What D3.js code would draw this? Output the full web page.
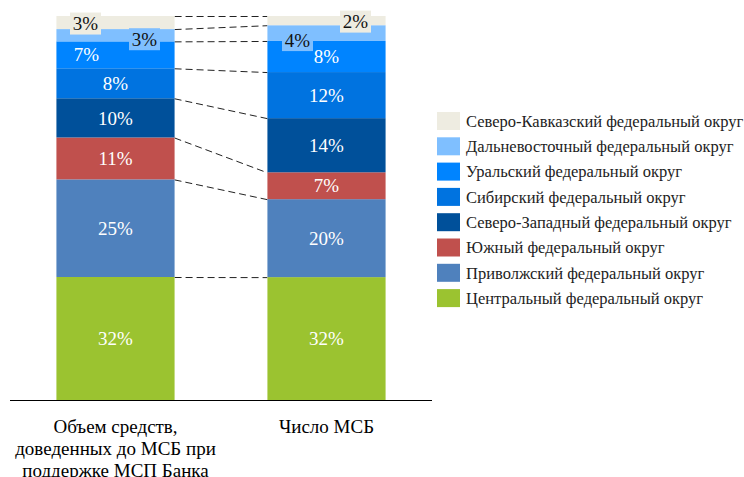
<!DOCTYPE html>
<html>
<head>
<meta charset="utf-8">
<script src="https://cdn.jsdelivr.net/npm/d3@7"></script>
<style>
  body { margin: 0; background: #fff; }
  svg { display: block; }
  text { font-family: "Liberation Serif", "Times New Roman", serif; }
  .axis { stroke: #000; stroke-width: 1; }
  .link { stroke: #222; stroke-width: 1; stroke-dasharray: 7,4; fill: none; }
</style>
</head>
<body>
<div id="chart"></div>
<script>
// bottom to top
var regions = [
  "Центральный федеральный округ",
  "Приволжский федеральный округ",
  "Южный федеральный округ",
  "Северо-Западный федеральный округ",
  "Сибирский федеральный округ",
  "Уральский федеральный округ",
  "Дальневосточный федеральный округ",
  "Северо-Кавказский федеральный округ"
];
var colors = ["#9BC330", "#4F81BD", "#C0504D", "#00509A", "#0073E0", "#0084FF", "#7FBFFF", "#EEECE1"];
var categories = [
  ["Объем средств,", "доведенных до МСБ при", "поддержке МСП Банка"],
  ["Число МСБ"]
];
var volumeShare = [32.0, 25.4, 10.9, 10.2, 7.8, 7.0, 3.2, 3.4];
var countShare = [32.0, 20.3, 7.0, 14.1, 12.0, 8.1, 4.1, 2.4];
var series = [volumeShare, countShare];

var width = 744, height = 477;
var svg = d3.select("#chart").append("svg")
    .attr("width", width)
    .attr("height", height);

var x = d3.scaleBand().domain([0, 1]).range([10, 432]).paddingInner(0.44).paddingOuter(0.22);
var y = d3.scaleLinear().domain([0, 100]).range([400, 16]);

// stacked boundaries per bar
var stacks = series.map(function(vals) {
  var total = d3.sum(vals), acc = 0;
  return vals.map(function(v, i) {
    var y0 = acc / total * 100;
    acc += v;
    return {i: i, v: v, y0: y0, y1: acc / total * 100};
  });
});

// connector lines between the bars
var links = d3.range(regions.length).map(function(i) {
  return [stacks[0][i].y1, stacks[1][i].y1];
});

svg.selectAll(".link")
  .data(links)
  .enter().append("line")
    .attr("class", "link")
    .attr("x1", x(0) + x.bandwidth())
    .attr("x2", x(1))
    .attr("y1", function(d) { return y(d[0]) + 0.5; })
    .attr("y2", function(d) { return y(d[1]) + 0.5; });

stacks.forEach(function(stack, b) {
  svg.append("g").selectAll("rect")
    .data(stack)
    .enter().append("rect")
      .attr("x", x(b))
      .attr("width", x.bandwidth())
      .attr("y", function(d) { return y(d.y1); })
      .attr("height", function(d) { return y(d.y0) - y(d.y1); })
      .attr("fill", function(d) { return colors[d.i]; });
});

// label placement tweaks for the thin top segments: bar-region -> dx, dy, boxed
var tweak = {
  "0-5": {dx: -29, dy: 0},
  "0-6": {dx: 29, dy: 4, box: true},
  "0-7": {dx: -30, dy: 1, box: true},
  "1-6": {dx: -29, dy: 7, box: true},
  "1-7": {dx: 29, dy: 1, box: true}
};

stacks.forEach(function(stack, b) {
  var cx = x(b) + x.bandwidth() / 2;
  stack.forEach(function(d) {
    var t = tweak[b + "-" + d.i] || {dx: 0, dy: 0};
    var px = cx + t.dx, py = (y(d.y0) + y(d.y1)) / 2 + t.dy;
    if (t.box) {
      svg.append("rect")
        .attr("x", px - 15.5)
        .attr("y", py - 11)
        .attr("width", 31)
        .attr("height", 22)
        .attr("fill", colors[d.i]);
    }
    svg.append("text")
      .attr("x", px)
      .attr("y", py)
      .attr("dy", "0.35em")
      .attr("text-anchor", "middle")
      .attr("font-size", 19)
      .attr("fill", t.box ? "#111" : "#fff")
      .text(Math.round(d.v) + "%");
  });
});

svg.append("line")
  .attr("class", "axis")
  .attr("x1", 10).attr("x2", 432)
  .attr("y1", y(0) + 0.5).attr("y2", y(0) + 0.5);

categories.forEach(function(lines, b) {
  var t = svg.append("text")
    .attr("text-anchor", "middle")
    .attr("font-size", 19)
    .attr("fill", "#000");
  lines.forEach(function(l, k) {
    t.append("tspan")
      .attr("x", x(b) + x.bandwidth() / 2)
      .attr("y", 433 + k * 22)
      .text(l);
  });
});

// legend, top to bottom
var legend = svg.append("g").attr("transform", "translate(437,112)");
var order = d3.range(regions.length).reverse();
var item = legend.selectAll(".item")
  .data(order)
  .enter().append("g")
    .attr("class", "item")
    .attr("transform", function(d, k) { return "translate(0," + (k * 25.3) + ")"; });

item.append("rect")
  .attr("width", 23)
  .attr("height", 18)
  .attr("fill", function(d) { return colors[d]; });

item.append("text")
  .attr("x", 29)
  .attr("y", 9)
  .attr("dy", "0.35em")
  .attr("font-size", 16.5)
  .attr("fill", "#222")
  .text(function(d) { return regions[d]; });
</script>
</body>
</html>
